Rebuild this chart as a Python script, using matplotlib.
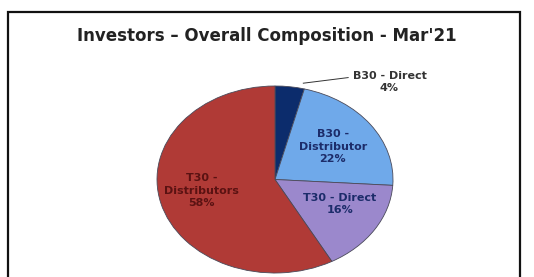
import matplotlib.pyplot as plt
from matplotlib.patches import Rectangle

# data
labels = ['B30 - Direct', 'B30 -\nDistributor', 'T30 - Direct', 'T30 -\nDistributors']
shares = [4, 22, 16, 58]
colors = ['#0c2c6c', '#6fa9ea', '#9b88cc', '#b03a36']
text_colors = ['#333333', '#1c2c6a', '#1c2c6a', '#5a1212']
label_pos = [(0.97, 1.04), (0.49, 0.35), (0.55, -0.26), (-0.62, -0.12)]

fig = plt.figure(figsize=(5.34, 2.77), dpi=100)

# outer frame (cut off at the bottom)
fig.patches.append(Rectangle((8 / 534, -0.05), 512 / 534, 1.05 - 12 / 277,
                             transform=fig.transFigure, fill=False,
                             edgecolor='#111111', linewidth=1.6))

fig.text(0.5, 1 - 36 / 277, "Investors \u2013 Overall Composition - Mar'21",
         ha='center', va='center', fontsize=12, fontweight='bold', color='#222222')

ax = fig.add_axes([157 / 534, 4 / 277, 236 / 534, 187 / 277])
ax.pie(shares, colors=colors, startangle=90, counterclock=False,
       wedgeprops=dict(edgecolor='#4a4a5a', linewidth=0.6))
ax.set_aspect('auto')
ax.set_xlim(-1, 1)
ax.set_ylim(-1, 1)
ax.axis('off')

for i, (lab, val) in enumerate(zip(labels, shares)):
    x, y = label_pos[i]
    ax.text(x, y, f'{lab}\n{val}%', ha='center', va='center', fontsize=8,
            fontweight='bold', color=text_colors[i], linespacing=1.3,
            clip_on=False)

# leader line for the small slice
ax.plot([0.24, 0.62], [1.03, 1.09], color='#333333', linewidth=0.7, clip_on=False)

fig.savefig('out.png', dpi=100)
